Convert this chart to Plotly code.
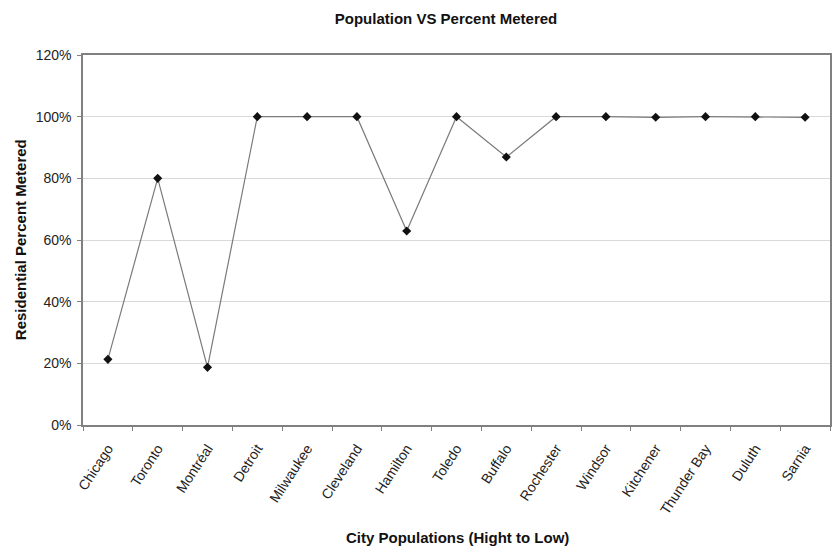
import plotly.graph_objects as go

cities = ["Chicago", "Toronto", "Montréal", "Detroit", "Milwaukee", "Cleveland",
          "Hamilton", "Toledo", "Buffalo", "Rochester", "Windsor", "Kitchener",
          "Thunder Bay", "Duluth", "Sarnia"]
pct_metered = [0.213, 0.80, 0.187, 1.00, 1.00, 1.00, 0.629, 1.00, 0.869, 1.00,
               1.00, 0.998, 1.00, 1.00, 0.998]
y_ticks = [0, 0.2, 0.4, 0.6, 0.8, 1.0, 1.2]

W, H = 836, 546
L, R, T, B = 83, 4, 55, 121
font = "Liberation Sans, Arial, sans-serif"

fig = go.Figure(go.Scatter(
    x=cities, y=pct_metered, mode="lines+markers",
    line=dict(color="#7a7a7a", width=1.2),
    marker=dict(symbol="diamond", size=7, color="#111111"),
    showlegend=False,
))

fig.update_layout(
    width=W, height=H,
    margin=dict(l=L, r=R, t=T, b=B),
    paper_bgcolor="white", plot_bgcolor="white",
    font=dict(family=font, color="#222222", size=14),
    title=dict(text="<b>Population VS Percent Metered</b>",
               x=446 / W, xanchor="center", y=1 - 19 / H, yanchor="middle",
               font=dict(size=15, color="#111111")),
    xaxis=dict(
        type="category", tickangle=-57, tickson="boundaries",
        ticks="outside", ticklen=4, tickcolor="#808080",
        ticklabelstandoff=8,
        showline=True, linecolor="#808080", linewidth=1.5, mirror=True,
        showgrid=False, tickfont=dict(size=14),
        range=[-0.5, len(cities) - 0.5],
    ),
    yaxis=dict(
        range=[0, 1.2], tickvals=y_ticks, tickformat=".0%",
        ticks="outside", ticklen=4, tickcolor="#808080",
        ticklabelstandoff=3,
        showline=True, linecolor="#808080", linewidth=1.5, mirror=True,
        showgrid=True, gridcolor="#d9d9d9", gridwidth=1,
        zeroline=False, tickfont=dict(size=14),
    ),
    annotations=[
        dict(text="<b>City Populations (Hight to Low)</b>", xref="paper", yref="paper",
             x=(459 - L) / (W - L - R), y=-(537 - (H - B)) / (H - T - B),
             xanchor="center", yanchor="middle", showarrow=False,
             font=dict(size=15, color="#111111")),
        dict(text="<b>Residential Percent Metered</b>", xref="paper", yref="paper",
             x=-(L - 20) / (W - L - R), y=0.5, textangle=-90,
             xanchor="center", yanchor="middle", showarrow=False,
             font=dict(size=15, color="#111111")),
    ],
)

fig.write_html("out.html")
